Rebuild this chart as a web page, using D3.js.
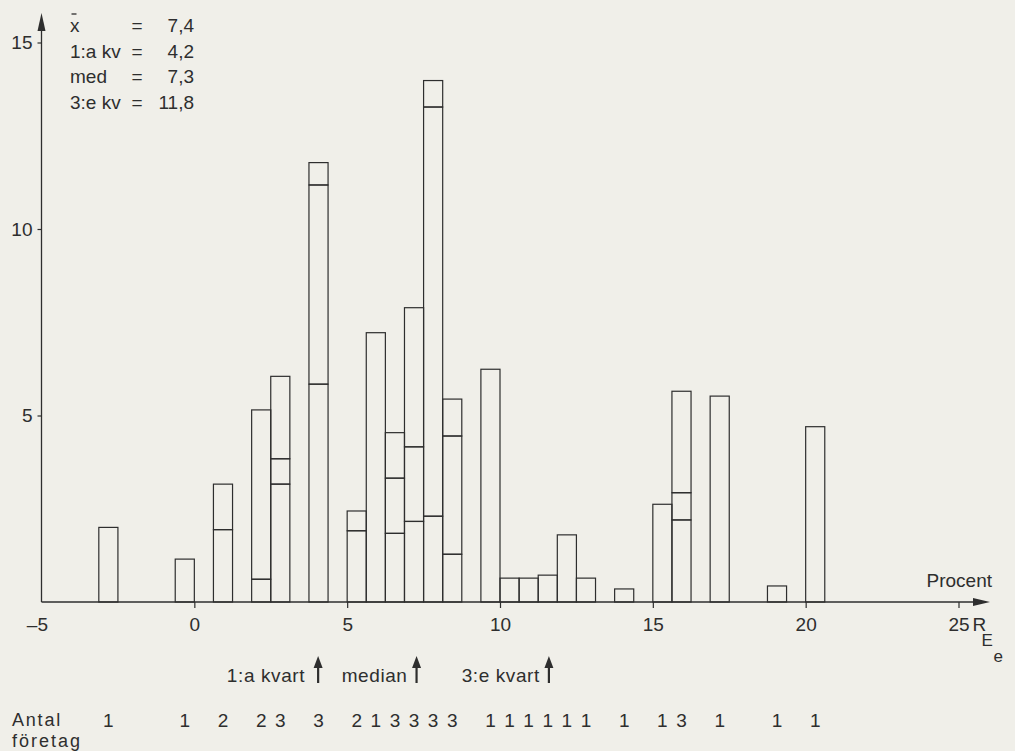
<!DOCTYPE html>
<html>
<head>
<meta charset="utf-8">
<script src="https://cdn.jsdelivr.net/npm/d3@7"></script>
<style>
  html, body { margin: 0; padding: 0; background: #f0efe9; }
  svg { display: block; font-family: "Liberation Sans", Arial, sans-serif; }
</style>
</head>
<body>
<svg id="chart" width="1015" height="751"></svg>
<script>
// bins are 0.625 percentage points wide, one entry per non-empty bin
const binWidth = 0.625;
const binStarts = [-3.125, -0.625, 0.625, 1.875, 2.5, 3.75, 5, 5.625, 6.25, 6.875, 7.5, 8.125,
  9.375, 10, 10.625, 11.25, 11.875, 12.5, 13.75, 15, 15.625, 16.875, 18.75, 20];
// one value per company in the bin, stacked bottom to top
const binSegments = [
  [2.0], [1.15], [1.94, 1.22], [0.61, 4.54], [3.16, 0.68, 2.21], [5.84, 5.34, 0.60],
  [1.91, 0.53], [7.22], [1.84, 1.48, 1.22], [2.16, 2.00, 3.73], [2.30, 10.97, 0.71], [1.28, 3.17, 0.99],
  [6.24], [0.64], [0.64], [0.72], [1.80], [0.64], [0.35], [2.62], [2.20, 0.73, 2.72], [5.52], [0.43], [4.70]
];
const xTicks = [-5, 0, 5, 10, 15, 20, 25];
const yTicks = [5, 10, 15];
const statLabels = ['x', '1:a kv', 'med', '3:e kv'];
const statValues = ['7,4', '4,2', '7,3', '11,8'];
const quartileLabels = ['1:a kvart', 'median', '3:e kvart'];
const quartileAt = [4.05, 7.27, 11.6];

const ink = '#2e2e2e';
const fs = 19;
const svg = d3.select('#chart');

const x = d3.scaleLinear().domain([-5, 25]).range([41.5, 958.5]);
const y = d3.scaleLinear().domain([0, 15]).range([602, 42.5]);

// stacked bars
const bins = binStarts.map((s, i) => ({ start: s, segs: binSegments[i], tops: d3.cumsum(binSegments[i]) }));
const pieces = bins.flatMap(b => b.segs.map((v, j) => ({ start: b.start, lo: j ? b.tops[j - 1] : 0, hi: b.tops[j] })));

svg.append('g')
  .selectAll('rect')
  .data(pieces)
  .join('rect')
  .attr('x', d => x(d.start))
  .attr('width', d => x(d.start + binWidth) - x(d.start))
  .attr('y', d => y(d.hi))
  .attr('height', d => y(d.lo) - y(d.hi))
  .attr('fill', 'none')
  .attr('stroke', ink)
  .attr('stroke-width', 1.2);

// x axis
const xAxis = svg.append('g')
  .attr('transform', `translate(0,${y(0)})`)
  .call(d3.axisBottom(x).tickValues(xTicks).tickSize(6).tickPadding(10)
    .tickFormat(d => d < 0 ? '\u2013' + Math.abs(d) : d));
xAxis.select('.domain').remove();
xAxis.selectAll('.tick line').attr('stroke', ink).attr('stroke-width', 1.2)
  .filter(d => d === -5).remove();
xAxis.selectAll('.tick text')
  .attr('font-size', fs)
  .attr('fill', ink)
  .attr('font-family', '"Liberation Sans", Arial, sans-serif')
  .filter(d => d < 0)
  .attr('text-anchor', 'end')
  .attr('dx', 6);

svg.append('line')
  .attr('x1', x(-5)).attr('x2', 976)
  .attr('y1', y(0)).attr('y2', y(0))
  .attr('stroke', ink).attr('stroke-width', 1.3);
svg.append('path')
  .attr('d', `M973,${y(0) - 4}L990,${y(0)}L973,${y(0) + 4}Z`)
  .attr('fill', ink);

// y axis
const yAxis = svg.append('g')
  .attr('transform', `translate(${x(-5)},0)`)
  .call(d3.axisLeft(y).tickValues(yTicks).tickSize(4).tickPadding(5));
yAxis.select('.domain').remove();
yAxis.selectAll('.tick line').attr('stroke', ink).attr('stroke-width', 1.2);
yAxis.selectAll('.tick text')
  .attr('font-size', fs)
  .attr('fill', ink)
  .attr('font-family', '"Liberation Sans", Arial, sans-serif');

svg.append('line')
  .attr('x1', x(-5)).attr('x2', x(-5))
  .attr('y1', y(0)).attr('y2', 28)
  .attr('stroke', ink).attr('stroke-width', 1.3);
svg.append('path')
  .attr('d', `M${x(-5) - 4},31L${x(-5)},13L${x(-5) + 4},31Z`)
  .attr('fill', ink);

// axis captions
const txt = (g, s, px, py, size = fs) => g.append('text')
  .attr('x', px).attr('y', py)
  .attr('font-size', size)
  .attr('fill', ink)
  .text(s);

txt(svg, 'Procent', 992, 587).attr('text-anchor', 'end');
txt(svg, 'R', x(25) + 14, 631);
txt(svg, 'E', x(25) + 23, 646, 17);
txt(svg, 'e', x(25) + 35, 662, 17);

// summary stats top left
statLabels.forEach((s, i) => {
  const by = 32 + i * 25.7;
  txt(svg, s, 70, by);
  txt(svg, '=', 137, by).attr('text-anchor', 'middle');
  txt(svg, statValues[i], 194, by).attr('text-anchor', 'end');
});
svg.append('line')
  .attr('x1', 71.5).attr('x2', 76.5)
  .attr('y1', 14).attr('y2', 14)
  .attr('stroke', ink).attr('stroke-width', 1.3);

// quartile markers
quartileLabels.forEach((s, i) => {
  const ax = x(quartileAt[i]);
  txt(svg, s, ax - (i === 0 ? 13 : 9), 682)
    .attr('text-anchor', 'end')
    .attr('letter-spacing', 0.6);
  svg.append('line')
    .attr('x1', ax).attr('x2', ax)
    .attr('y1', 683).attr('y2', 664)
    .attr('stroke', ink).attr('stroke-width', 2.2);
  svg.append('path')
    .attr('d', `M${ax - 4.5},668L${ax},656L${ax + 4.5},668Z`)
    .attr('fill', ink);
});

// number of companies per bin
txt(svg, 'Antal', 12, 726, 18).attr('letter-spacing', 1.8);
txt(svg, 'företag', 12, 747, 18).attr('letter-spacing', 2);
svg.append('g')
  .selectAll('text')
  .data(bins)
  .join('text')
  .attr('x', d => x(d.start + binWidth / 2))
  .attr('y', 727)
  .attr('text-anchor', 'middle')
  .attr('font-size', fs)
  .attr('fill', ink)
  .text(d => d.segs.length);
</script>
</body>
</html>
